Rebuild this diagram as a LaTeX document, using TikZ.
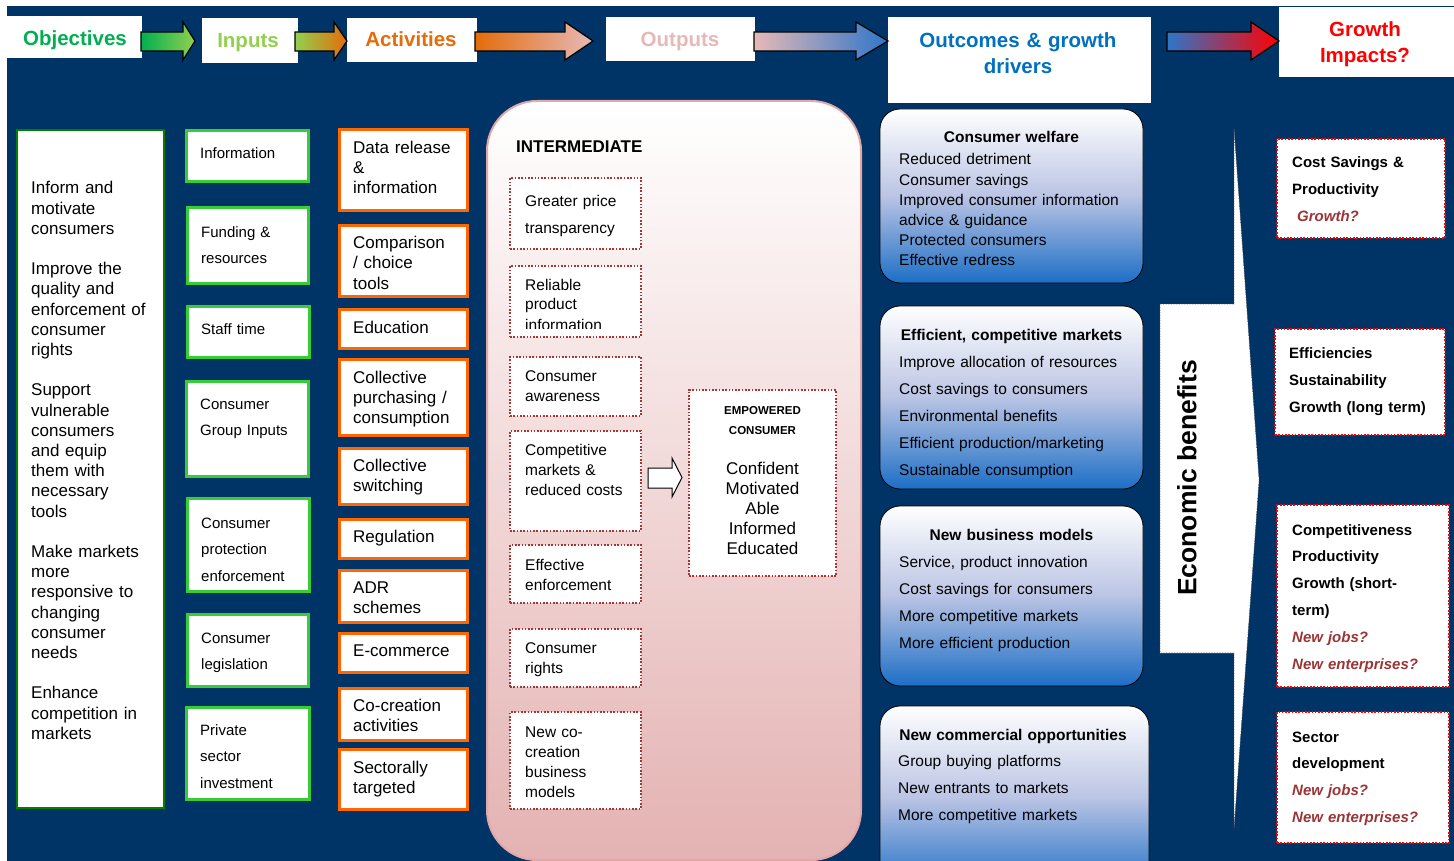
\documentclass[tikz,border=0pt]{standalone}
\usepackage{fontspec}
\setmainfont{Liberation Sans}
\usetikzlibrary{calc}

\definecolor{navy}{RGB}{0,51,102}
\definecolor{objGreen}{RGB}{0,128,0}
\definecolor{hdGreen}{RGB}{0,176,80}
\definecolor{hdLightGreen}{RGB}{146,208,80}
\definecolor{inGreen}{RGB}{55,205,55}
\definecolor{actOrange}{RGB}{255,102,0}
\definecolor{hdOrange}{RGB}{228,108,10}
\definecolor{outPink}{RGB}{230,185,184}
\definecolor{hdBlue}{RGB}{0,112,192}
\definecolor{arrBlue}{RGB}{46,117,200}
\definecolor{dotRed}{RGB}{168,52,52}
\definecolor{gRed}{RGB}{155,53,53}
\definecolor{interPink}{RGB}{228,178,178}
\definecolor{interEdge}{RGB}{226,168,168}
\definecolor{obBlue}{RGB}{28,110,198}
\definecolor{obMid}{RGB}{186,196,228}

% box node from its corner coordinates: style, name, x1, y1, x2, y2
\newcommand\bx[6]{\node[#1, inner sep=0pt, outer sep=0pt,
  minimum width={(#5)-(#3)}, minimum height={(#6)-(#4)}]
  (#2) at ({((#3)+(#5))/2},{((#4)+(#6))/2}) {};}
% gradient block arrow of the header row: x start, x head base, x tip, left colour, right colour
\newcommand\hdarrow[5]{\draw[hdarrow, left color=#4, right color=#5]
  (#1,32) -- (#2,32) -- (#2,22) -- (#3,41) -- (#2,60) -- (#2,51) -- (#1,51) -- cycle;}

\begin{document}
\begin{tikzpicture}[x=1pt,y=-1pt,
  hdbox/.style={fill=white, draw=none},
  hdtxt/.style={font=\fontsize{20.5}{26}\selectfont\bfseries, inner sep=0pt, anchor=base, align=center, text width=260pt},
  hdarrow/.style={draw=black, line width=1.2pt, line join=miter},
  objbox/.style={fill=white, draw=objGreen, line width=2.2pt},
  inbox/.style={fill=white, draw=inGreen, line width=3pt},
  actbox/.style={fill=white, draw=actOrange, line width=3pt},
  dotbox/.style={fill=white, draw=dotRed, line width=1.6pt, dash pattern=on 1.6pt off 1.7pt},
  gbox/.style={fill=white, draw=red, line width=1.6pt, dash pattern=on 1.6pt off 1.7pt},
  interbox/.style={draw=interEdge, line width=2pt, rounded corners=50pt, top color=white, bottom color=interPink},
  obox/.style={draw=black, line width=0.8pt, rounded corners=20pt, top color=white, bottom color=obBlue, middle color=obMid},
  callout/.style={fill=white, draw=black!70, line width=0.6pt, densely dotted},
  blockarr/.style={fill=white, draw=black, line width=1pt, line join=miter},
  ltxt/.style={inner sep=0pt, anchor=base west, align=left, text width=#1},
  ltxt/.default=150pt,
  ctxt/.style={inner sep=0pt, anchor=base, align=center, text width=#1},
  ctxt/.default=250pt,
]
\useasboundingbox (0,0) rectangle (1454,861);
\clip (0,0) rectangle (1454,861);
\fill[white] (0,0) rectangle (1454,861);
\fill[navy] (7,6) rectangle (1454,861);

% ---------- header row ----------
\bx{hdbox}{hObj}{7}{16}{142}{58}
\bx{hdbox}{hInp}{202}{18}{298}{63}
\bx{hdbox}{hAct}{347}{18}{477}{62}
\bx{hdbox}{hOut}{606}{17}{755}{61}
\bx{hdbox}{hOcm}{888}{17}{1151}{103}
\bx{hdbox}{hGrw}{1279}{7}{1454}{77}
\node[hdtxt, text=hdGreen] (hObjT) at (75,46) {Objectives};
\node[hdtxt, text=hdLightGreen] (hInpT) at (248,48) {Inputs};
\node[hdtxt, text=hdOrange] (hActT) at (411,47) {Activities};
\node[hdtxt, text=outPink] (hOutT) at (680,47) {Outputs};
\node[hdtxt, text=hdBlue] (hOcmT) at (1018,48) {Outcomes \& growth\\drivers};
\node[hdtxt, text=red] (hGrwT) at (1365,37) {Growth\\Impacts?};

\hdarrow{141}{183}{195}{hdGreen}{hdLightGreen}
\hdarrow{295}{334}{347}{hdLightGreen}{hdOrange}
\hdarrow{475}{565}{593}{hdOrange}{outPink}
\hdarrow{754}{856}{888}{outPink}{arrBlue}
\hdarrow{1167}{1251}{1279}{arrBlue}{red}

% ---------- objectives ----------
\bx{objbox}{obj}{17}{130}{164}{808}
\node[ltxt, font=\fontsize{17}{20.2}\selectfont] (objT) at (31,194)
  {Inform and\\motivate\\consumers\\[20.2pt]Improve the\\quality and\\enforcement of\\consumer\\rights\\[20.2pt]Support\\vulnerable\\consumers\\and equip\\them with\\necessary\\tools\\[20.2pt]Make markets\\more\\responsive to\\changing\\consumer\\needs\\[20.2pt]Enhance\\competition in\\markets};

% ---------- inputs ----------
\bx{inbox}{in1}{186}{131}{308}{182}
\bx{inbox}{in2}{187}{208}{308}{283}
\bx{inbox}{in3}{187}{306}{309}{357}
\bx{inbox}{in4}{186}{381}{308}{476}
\bx{inbox}{in5}{187}{498}{309}{591}
\bx{inbox}{in6}{187}{614}{308}{686}
\bx{inbox}{in7}{186}{707}{309}{799}
\begin{scope}[every node/.style={font=\fontsize{15}{26.7}\selectfont}]
\node[ltxt] (in1T) at (200,159) {Information};
\node[ltxt] (in2T) at (201,237) {Funding \&\\resources};
\node[ltxt] (in3T) at (201,334) {Staff time};
\node[ltxt] (in4T) at (200,409) {Consumer\\Group Inputs};
\node[ltxt] (in5T) at (201,528) {Consumer\\protection\\enforcement};
\node[ltxt] (in6T) at (201,643) {Consumer\\legislation};
\node[ltxt] (in7T) at (200,735) {Private\\sector\\investment};
\end{scope}

% ---------- activities ----------
\bx{actbox}{a1}{339}{130}{467}{211}
\bx{actbox}{a2}{339}{226}{467}{296}
\bx{actbox}{a3}{339}{309}{467}{348}
\bx{actbox}{a4}{339}{359}{467}{435}
\bx{actbox}{a5}{339}{448}{467}{504}
\bx{actbox}{a6}{339}{519}{467}{558}
\bx{actbox}{a7}{339}{570}{467}{622}
\bx{actbox}{a8}{339}{633}{467}{672}
\bx{actbox}{a9}{339}{688}{467}{740}
\bx{actbox}{a10}{339}{749}{467}{809}
\begin{scope}[every node/.style={font=\fontsize{17}{20}\selectfont}]
\node[ltxt] (a1T) at (353,154) {Data release\\\&\\information};
\node[ltxt] (a2T) at (353,249) {Comparison\\/ choice\\tools};
\node[ltxt] (a3T) at (353,333) {Education};
\node[ltxt] (a4T) at (353,383) {Collective\\purchasing /\\consumption};
\node[ltxt] (a5T) at (353,471) {Collective\\switching};
\node[ltxt] (a6T) at (353,542) {Regulation};
\node[ltxt] (a7T) at (353,593) {ADR\\schemes};
\node[ltxt] (a8T) at (353,656) {E-commerce};
\node[ltxt] (a9T) at (353,711) {Co-creation\\activities};
\node[ltxt] (a10T) at (353,773) {Sectorally\\targeted};
\end{scope}

% ---------- outputs ----------
\bx{interbox}{inter}{487}{101}{861}{860}
\node[ltxt, font=\fontsize{17}{20}\selectfont\bfseries] (interT) at (516,153) {INTERMEDIATE};
\bx{dotbox}{ic1}{510}{178}{641}{249}
\bx{dotbox}{ic2}{510}{266}{641}{337}
\bx{dotbox}{ic3}{510}{357}{641}{416}
\bx{dotbox}{ic4}{510}{431}{641}{531}
\bx{dotbox}{ic5}{510}{545}{641}{603}
\bx{dotbox}{ic6}{510}{629}{641}{687}
\bx{dotbox}{ic7}{510}{712}{641}{809}
\begin{scope}[every node/.style={font=\fontsize{15.5}{20}\selectfont}]
\node[ltxt, font=\fontsize{15.5}{27}\selectfont] (ic1T) at (525,207) {Greater price\\transparency};
\begin{scope}
\clip (512,268) rectangle (639,328);
\node[ltxt] (ic2T) at (525,290) {Reliable\\product\\information};
\end{scope}
\node[ltxt] (ic3T) at (525,381) {Consumer\\awareness};
\node[ltxt] (ic4T) at (525,455) {Competitive\\markets \&\\reduced costs};
\node[ltxt] (ic5T) at (525,570) {Effective\\enforcement};
\node[ltxt] (ic6T) at (525,653) {Consumer\\rights};
\node[ltxt] (ic7T) at (525,737) {New co-\\creation\\business\\models};
\end{scope}

\bx{dotbox}{emp}{689}{390}{836}{576}
\node[ctxt=140pt, font=\fontsize{11.5}{20}\selectfont\bfseries] (empT) at (762.5,414) {EMPOWERED\\CONSUMER};
\node[ctxt=140pt, font=\fontsize{17}{20.2}\selectfont] (empL) at (762.5,474) {Confident\\Motivated\\Able\\Informed\\Educated};
\draw[blockarr] (648,468) -- (672,468) -- (672,458) -- (682,477.5) -- (672,497) -- (672,488) -- (648,488) -- cycle;

% ---------- outcomes & growth drivers ----------
\bx{obox}{ob1}{880}{109}{1143}{283}
\bx{obox}{ob2}{880}{306}{1143}{489}
\bx{obox}{ob3}{880}{506}{1143}{686}
\bx{obox}{ob4}{880}{706}{1149}{890}
\begin{scope}[every node/.style={font=\fontsize{15.5}{20}\selectfont}]
\node[ctxt, font=\fontsize{15.5}{20}\selectfont\bfseries] (ob1T) at (1011.5,143) {Consumer welfare};
\node[ltxt=240pt, font=\fontsize{15.5}{20.1}\selectfont] (ob1L) at (899,165)
  {Reduced detriment\\Consumer savings\\Improved consumer information\\advice \& guidance\\Protected consumers\\Effective redress};
\node[ctxt, font=\fontsize{15.5}{20}\selectfont\bfseries] (ob2T) at (1011.5,340) {Efficient, competitive markets};
\node[ltxt=240pt, font=\fontsize{15.5}{27}\selectfont] (ob2L) at (899,367)
  {Improve allocation of resources\\Cost savings to consumers\\Environmental benefits\\Efficient production/marketing\\Sustainable consumption};
\node[ctxt, font=\fontsize{15.5}{20}\selectfont\bfseries] (ob3T) at (1011.5,540) {New business models};
\node[ltxt=240pt, font=\fontsize{15.5}{27}\selectfont] (ob3L) at (899,567)
  {Service, product innovation\\Cost savings for consumers\\More competitive markets\\More efficient production};
\node[ctxt, font=\fontsize{15.5}{20}\selectfont\bfseries] (ob4T) at (1013,740) {New commercial opportunities};
\node[ltxt=240pt, font=\fontsize{15.5}{27}\selectfont] (ob4L) at (898,766)
  {Group buying platforms\\New entrants to markets\\More competitive markets};
\end{scope}

% ---------- economic benefits callout ----------
\draw[callout] (1160,304) -- (1234,304) -- (1234,129) -- (1259,480) -- (1234,828) -- (1234,653) -- (1160,653) -- cycle;
\node[rotate=90, inner sep=0pt, font=\fontsize{26.5}{30}\selectfont\bfseries] (econ) at (1187,478) {Economic benefits};

% ---------- growth impacts ----------
\bx{gbox}{g1}{1277}{139}{1445}{238}
\bx{gbox}{g2}{1275}{329}{1445}{435}
\bx{gbox}{g3}{1277}{505}{1449}{687}
\bx{gbox}{g4}{1277}{712}{1449}{843}
\begin{scope}[every node/.style={font=\fontsize{15}{27}\selectfont\bfseries}]
\node[ltxt] (g1T) at (1292,168) {Cost Savings \&\\Productivity\\\hspace*{5pt}{\itshape\color{gRed}Growth?}};
\node[ltxt] (g2T) at (1289,358) {Efficiencies\\Sustainability\\Growth (long term)};
\node[ltxt, font=\fontsize{15}{26.8}\selectfont\bfseries] (g3T) at (1292,535) {Competitiveness\\Productivity\\Growth (short-\\term)\\{\itshape\color{gRed}New jobs?}\\{\itshape\color{gRed}New enterprises?}};
\node[ltxt, font=\fontsize{15}{26.7}\selectfont\bfseries] (g4T) at (1292,742) {Sector\\development\\{\itshape\color{gRed}New jobs?}\\{\itshape\color{gRed}New enterprises?}};
\end{scope}
\end{tikzpicture}
\end{document}
